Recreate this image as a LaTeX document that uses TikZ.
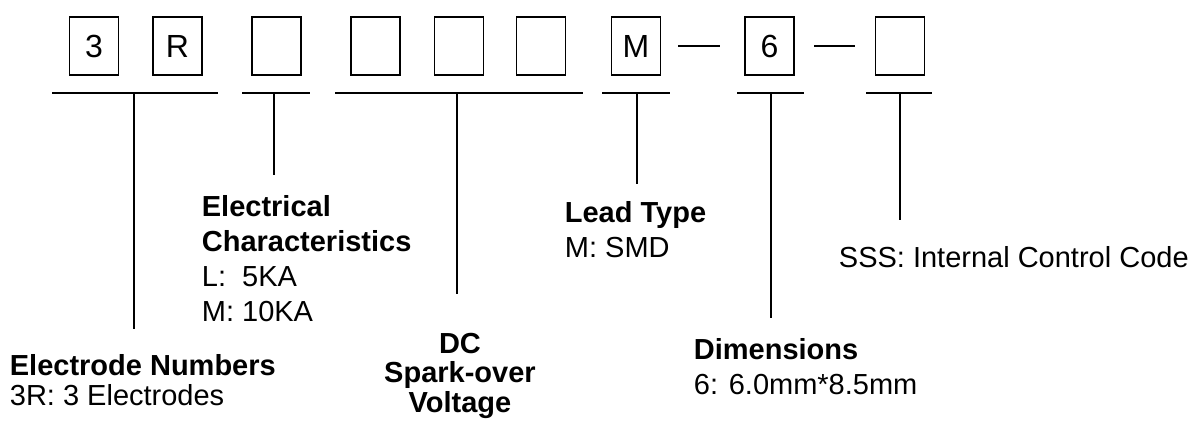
\documentclass[tikz,border=0pt]{standalone}
\usepackage{fontspec}
\setmainfont{Liberation Sans}
\usetikzlibrary{positioning}

\begin{document}
\begin{tikzpicture}[x=1pt, y=-1pt, line width=1.8pt,
    every node/.style={font=\fontsize{29}{35}\selectfont},
    digit/.style={draw, minimum width=49pt, minimum height=58pt, inner sep=0pt, font=\fontsize{32}{32}\selectfont},
    lbl/.style={align=left, anchor=north west, inner sep=0pt},
    tight/.style={font=\fontsize{29}{29.5}\selectfont}]
  \useasboundingbox (0,0) rectangle (1195,423);
  % code boxes
  \foreach \x/\t/\n in {94/3/bA, 177.5/R/bB, 276.5//bC, 375.5//bD, 459//bE, 541//bF, 636/M/bG, 769.5/6/bH, 900//bI}
    \node[digit] (\n) at (\x,46) {\t};
  \coordinate (dA1) at (678,46);
  \coordinate (dA2) at (720,46);
  \coordinate (dB1) at (814,46);
  \coordinate (dB2) at (855,46);
  \draw (dA1) -- (dA2);
  \draw (dB1) -- (dB2);
  % brackets under the groups
  \foreach \l/\r/\m/\e/\n in {52/218/134/329/1, 242/310/274/175/2, 335/583/457/294/3,
                              602/670/637/184/4, 737/804/771/318/5, 866/932/900/220/6} {
    \coordinate (l\n) at (\l,93);
    \coordinate (r\n) at (\r,93);
    \coordinate (m\n) at (\m,93);
    \coordinate (e\n) at (\m,\e);
    \draw (l\n) -- (r\n);
    \draw (m\n) -- (e\n);
  }
  % labels
  \node[lbl, tight] (electrode) at (9,354) {\textbf{Electrode Numbers}\\3R: 3 Electrodes};
  \node[lbl] (elec) at (201,195) {\textbf{Electrical}\\\textbf{Characteristics}\\L:\ \ 5KA\\M: 10KA};
  \node[lbl, tight, align=center, anchor=north] (dc) at (460,332) {\textbf{DC}\\\textbf{Spark-over}\\\textbf{Voltage}};
  \node[lbl] (lead) at (564,201) {\textbf{Lead Type}\\M: SMD};
  \node[lbl] (dim) at (693,338) {\textbf{Dimensions}\\6: 6.0mm*8.5mm};
  \node[lbl] (sss) at (838,246) {SSS: Internal Control Code};
\end{tikzpicture}
\end{document}
